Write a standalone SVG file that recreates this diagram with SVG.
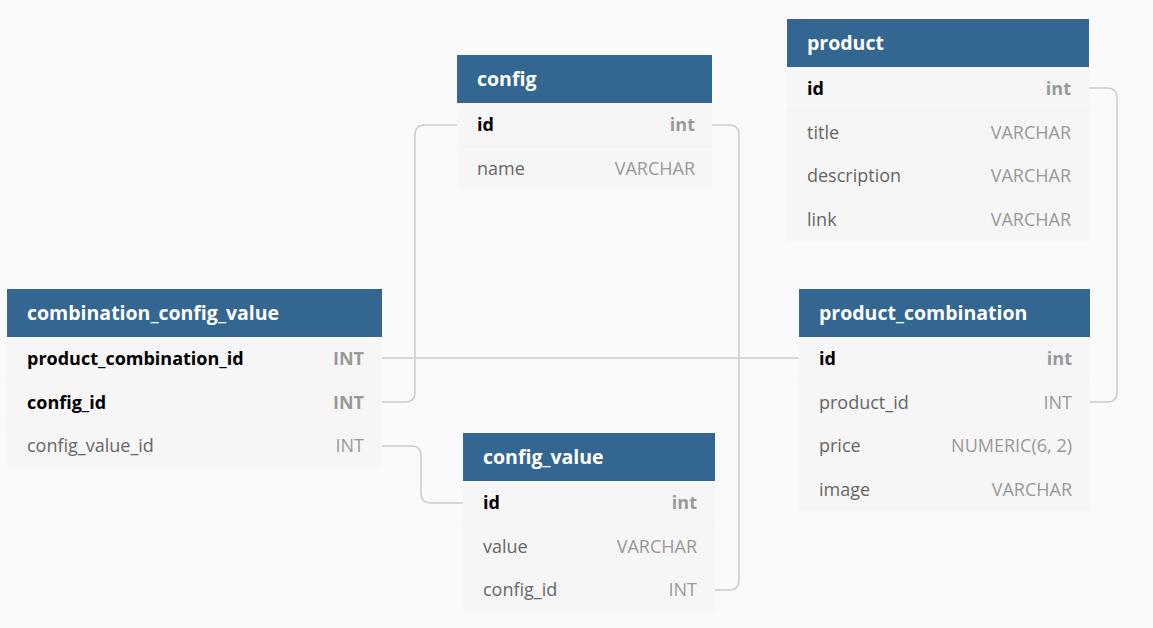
<svg xmlns="http://www.w3.org/2000/svg" width="1153" height="628" viewBox="0 0 1153 628">
<style>
.bg{fill:#fafafa}
.hd{fill:#336791}
.bd{fill:#f6f6f6}
.sep{stroke:#f2f2f2;stroke-width:1}
.t{font-family:"Open Sans","Noto Sans","Liberation Sans",sans-serif;font-size:19.5px;font-weight:700;fill:#ffffff}
.f{font-family:"Open Sans","Noto Sans","Liberation Sans",sans-serif;font-size:18px;fill:#666666}
.fk{font-family:"Open Sans","Noto Sans","Liberation Sans",sans-serif;font-size:18px;font-weight:700;fill:#000000}
.ty{font-family:"Open Sans","Noto Sans","Liberation Sans",sans-serif;font-size:18px;fill:#999999;text-anchor:end}
.tk{font-family:"Open Sans","Noto Sans","Liberation Sans",sans-serif;font-size:18px;font-weight:700;fill:#999999;text-anchor:end}
.c{fill:none;stroke:#cccccc;stroke-width:1.5}
</style>
<rect class="bg" x="0" y="0" width="1153" height="628"/>
<g id="connectors">
<path class="c" d="M712 125 H729 Q739 125 739 135 V580 Q739 590 729 590 H715"/>
<path class="c" d="M457 125 H425 Q415 125 415 135 V392 Q415 402 405 402 H382"/>
<path class="c" d="M1089 88 H1107 Q1117 88 1117 98 V392 Q1117 402 1107 402 H1090"/>
<path class="c" d="M382 358 H799"/>
<path class="c" d="M382 446 H411 Q421 446 421 456 V493 Q421 503 431 503 H463"/>
</g>
<g id="config">
<rect class="hd" x="457" y="55" width="255" height="48"/>
<rect class="bd" x="457" y="103" width="255" height="87"/>
<line class="sep" x1="457" y1="146.5" x2="712" y2="146.5"/>
<text class="t" x="477" y="86">config</text>
<text class="fk" x="477" y="131">id</text><text class="tk" x="695" y="131">int</text>
<text class="f" x="477" y="175">name</text><text class="ty" x="695" y="175">VARCHAR</text>
</g>
<g id="product">
<rect class="hd" x="787" y="19" width="302" height="48"/>
<rect class="bd" x="787" y="67" width="302" height="174"/>
<line class="sep" x1="787" y1="110.5" x2="1089" y2="110.5"/>
<text class="t" x="807" y="50">product</text>
<text class="fk" x="807" y="95">id</text><text class="tk" x="1071" y="95">int</text>
<text class="f" x="807" y="139">title</text><text class="ty" x="1071" y="139">VARCHAR</text>
<text class="f" x="807" y="182">description</text><text class="ty" x="1071" y="182">VARCHAR</text>
<text class="f" x="807" y="226">link</text><text class="ty" x="1071" y="226">VARCHAR</text>
</g>
<g id="combination_config_value">
<rect class="hd" x="7" y="289" width="375" height="48"/>
<rect class="bd" x="7" y="337" width="375" height="130.5"/>
<line class="sep" x1="7" y1="380.5" x2="382" y2="380.5"/>
<line class="sep" x1="7" y1="424" x2="382" y2="424"/>
<text class="t" x="27" y="320">combination_config_value</text>
<text class="fk" x="27" y="365">product_combination_id</text><text class="tk" x="364" y="365">INT</text>
<text class="fk" x="27" y="409">config_id</text><text class="tk" x="364" y="409">INT</text>
<text class="f" x="27" y="452">config_value_id</text><text class="ty" x="364" y="452">INT</text>
</g>
<g id="config_value">
<rect class="hd" x="463" y="433" width="252" height="48"/>
<rect class="bd" x="463" y="481" width="252" height="130.5"/>
<line class="sep" x1="463" y1="524.5" x2="715" y2="524.5"/>
<text class="t" x="483" y="464">config_value</text>
<text class="fk" x="483" y="509">id</text><text class="tk" x="697" y="509">int</text>
<text class="f" x="483" y="553">value</text><text class="ty" x="697" y="553">VARCHAR</text>
<text class="f" x="483" y="596">config_id</text><text class="ty" x="697" y="596">INT</text>
</g>
<g id="product_combination">
<rect class="hd" x="799" y="289" width="291" height="48"/>
<rect class="bd" x="799" y="337" width="291" height="174"/>
<line class="sep" x1="799" y1="380.5" x2="1090" y2="380.5"/>
<text class="t" x="819" y="320">product_combination</text>
<text class="fk" x="819" y="365">id</text><text class="tk" x="1072" y="365">int</text>
<text class="f" x="819" y="409">product_id</text><text class="ty" x="1072" y="409">INT</text>
<text class="f" x="819" y="452">price</text><text class="ty" x="1072" y="452">NUMERIC(6, 2)</text>
<text class="f" x="819" y="496">image</text><text class="ty" x="1072" y="496">VARCHAR</text>
</g>
</svg>
